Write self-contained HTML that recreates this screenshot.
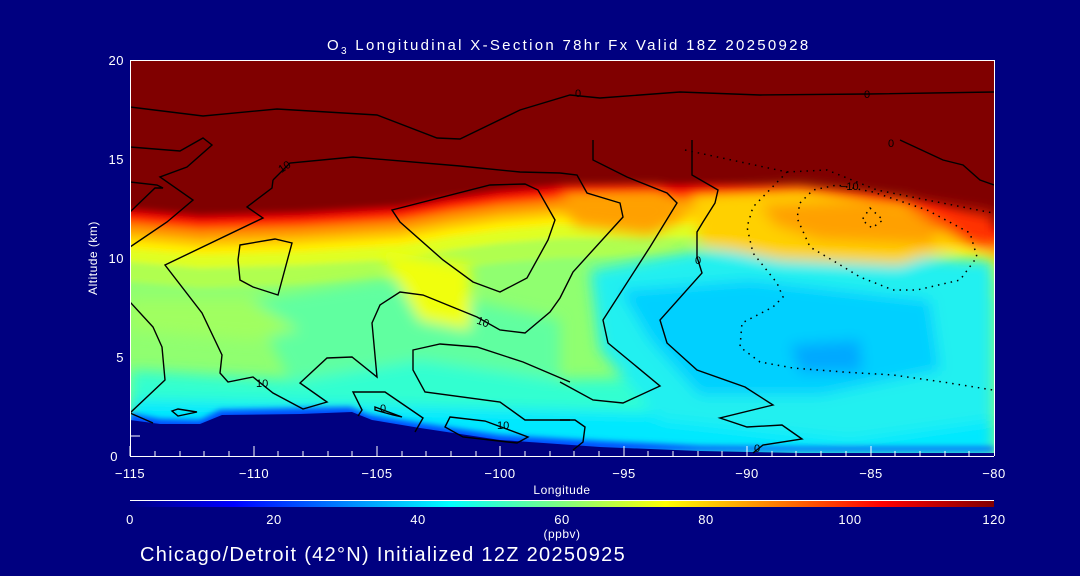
<!DOCTYPE html>
<html><head><meta charset="utf-8"><style>
html,body{margin:0;padding:0;background:#000080;}
svg{display:block;}
text{font-family:"Liberation Sans",sans-serif;fill:#fff;}
</style></head><body>
<svg width="1080" height="576" viewBox="0 0 1080 576" xmlns="http://www.w3.org/2000/svg">
<defs>
<clipPath id="pc"><rect x="130" y="60" width="864" height="396"/></clipPath>
<filter id="bl" x="-20%" y="-20%" width="140%" height="140%"><feGaussianBlur stdDeviation="7"/></filter>
<filter id="bl2" x="-20%" y="-20%" width="140%" height="140%"><feGaussianBlur stdDeviation="3"/></filter>
<path id="tp" d="M120,206 L200,213 L300,210 L400,204 L450,195 L500,188 L560,183 L700,182 L800,184 L880,192 L940,205 L1000,228 L1000,470 L120,470 Z"/>
<linearGradient id="cb" x1="0" x2="1" y1="0" y2="0">
<stop offset="0" stop-color="#000080"/><stop offset="0.12" stop-color="#0000ff"/>
<stop offset="0.37" stop-color="#00ffff"/><stop offset="0.5" stop-color="#80ff80"/>
<stop offset="0.62" stop-color="#ffff00"/><stop offset="0.87" stop-color="#ff0000"/>
<stop offset="1" stop-color="#800000"/></linearGradient>
</defs>
<g clip-path="url(#pc)">
<rect x="130" y="60" width="864" height="396" fill="#800000"/>
<g filter="url(#bl2)">
<use href="#tp" fill="#b00000"/>
<use href="#tp" fill="#e00000" transform="translate(0,4)"/>
<use href="#tp" fill="#ff2000" transform="translate(0,8)"/>
<use href="#tp" fill="#ff5000" transform="translate(0,12)"/>
<use href="#tp" fill="#ff8000" transform="translate(0,16)"/>
<use href="#tp" fill="#ffa000" transform="translate(0,21)"/>
<use href="#tp" fill="#ffc800" transform="translate(0,27)"/>
<use href="#tp" fill="#ffee00" transform="translate(0,34)"/>
<use href="#tp" fill="#e0ff20" transform="translate(0,42)"/>
<use href="#tp" fill="#b0ff50" transform="translate(0,55)"/>
<use href="#tp" fill="#90ff70" transform="translate(0,75)"/>
</g>
<g filter="url(#bl)">
<path d="M250,300 L380,280 L470,300 L560,320 L560,400 L300,400 Z" fill="#60ffa0"/>
<path d="M130,330 L250,340 L300,330 L250,300 L130,300 Z" fill="#a0ff60"/>
<path d="M380,250 L470,265 L470,330 L420,320 Z" fill="#f0ff10"/>
<path d="M130,370 L300,380 L420,360 L560,380 L994,370 L994,456 L130,456 Z" fill="#30ffd0"/>
<path d="M130,400 L994,420 L994,456 L130,456 Z" fill="#00e8ff"/>
<path d="M590,270 L700,250 L994,260 L994,420 L850,440 L660,420 L600,350 Z" fill="#20f0f0"/>
<path d="M620,290 L750,280 L930,300 L940,370 L820,395 L700,395 L650,340 Z" fill="#00d0ff"/>
<path d="M790,345 L860,340 L862,372 L800,372 Z" fill="#00a8ff"/>
<path d="M690,195 L800,188 L930,205 L960,245 L900,265 L780,260 L700,245 Z" fill="#ffd000"/>
<path d="M760,205 L880,198 L945,220 L930,245 L820,240 L775,225 Z" fill="#ffa000"/>
<path d="M560,192 L660,190 L690,215 L650,235 L575,225 Z" fill="#ffa000"/>
<path d="M900,200 L994,215 L994,245 L950,235 Z" fill="#ff3000"/>
</g>
<path d="M130,418 L160,424 L200,425 L220,415 L300,413 L350,412 L370,420 L420,428 L500,440 L600,446 L700,451 L800,452 L994,452 L994,456 L130,456 Z" fill="#0050ff" transform="translate(0,-5)" filter="url(#bl2)"/>
<path d="M130,420 L160,424 L200,424 L222,415 L300,414 L352,412 L372,420 L420,428 L500,440 L600,447 L700,451 L800,453 L994,453 L994,460 L130,460 Z" fill="#000080"/>
<g fill="none" stroke="#000" stroke-width="1.4">
<polyline points="130,107 203,116 277,109 377,115 437,138 460,139 520,110 570,95 600,98 680,92 760,95 868,94 994,92"/>
<polyline points="130,147 180,151 203,138 212,145 187,167 160,177 193,200 167,222 130,247"/>
<polyline points="130,182 157,185 163,188 155,188 130,212"/>
<polyline points="273,180 272,188 247,207 263,218 165,265 202,313 222,355 220,373 228,382 253,377 273,393 303,409 327,402 300,383 327,358 352,357 377,377 372,323 380,305 400,292 423,295 477,317 500,330 525,333 550,312 560,298 573,272 623,217 620,203 587,193 577,175 560,173"/>
<polyline points="273,180 290,163 353,157 460,166 520,172 560,173"/>
<polygon points="392,210 490,185 525,184 538,190 555,220 548,240 527,278 500,292 473,282 443,260 400,222"/>
<polygon points="240,245 275,239 292,243 278,295 253,287 240,280 238,260"/>
<polyline points="130,302 153,327 162,347 165,380 130,413 153,423"/>
<polyline points="570,382 523,362 477,347 440,344 413,350 413,370 425,392 500,402 525,420 570,420"/>
<polyline points="415,432 423,418 385,392 353,392 362,410 358,416"/>
<polygon points="450,417 485,421 528,437 517,443 463,437 445,427"/>
<polygon points="172,411 178,409 197,412 178,416"/>
<polygon points="375,407 402,417 393,415 375,410"/>
<polyline points="593,140 593,160 627,177 667,193 677,203 650,247 603,320 608,343 660,386 623,403 593,400 560,382"/>
<polyline points="692,140 692,175 718,190 715,203 703,222 697,232 697,257 702,273 660,320 667,343 697,370 745,387 773,405 720,418 747,427 782,425 802,439 763,445 753,453"/>
<polyline points="560,420 575,420 585,427 583,442 573,450"/>
<polyline points="900,140 943,160 963,165 980,180 994,185"/>
</g>
<g fill="none" stroke="#000" stroke-width="1.5" stroke-dasharray="1.5,5">
<polyline points="685,150 787,172 753,207 747,227 753,253 777,283 783,297 773,307 742,323 740,347 760,362 793,368 843,372 893,375 943,382 993,390"/>
<polyline points="787,172 827,170 877,190 927,200 993,213"/>
<polygon points="800,203 813,190 837,185 873,192 927,210 970,233 977,257 960,280 917,290 893,290 860,277 837,263 810,247 797,218"/>
<polygon points="870,208 883,220 872,228 862,220"/>
</g>
<g style="font-size:11px" fill="#000">
<text x="278" y="170" style="fill:#000" transform="rotate(-35 285 166)">10</text>
<text x="477" y="326" style="fill:#000" transform="rotate(20 484 322)">10</text>
<text x="256" y="387" style="fill:#000">10</text>
<text x="380" y="412" style="fill:#000">0</text>
<text x="497" y="429" style="fill:#000">10</text>
<text x="575" y="97" style="fill:#000">0</text>
<text x="864" y="98" style="fill:#000">0</text>
<text x="888" y="147" style="fill:#000">0</text>
<text x="695" y="264" style="fill:#000">0</text>
<text x="754" y="452" style="fill:#000">0</text>
<text x="840" y="190" style="fill:#000">−10</text>
</g>
</g>
<g stroke="#fff" stroke-width="1" fill="none">
<line x1="130" y1="60.5" x2="994" y2="60.5"/>
<line x1="130" y1="456.5" x2="994" y2="456.5"/>
<line x1="130.5" y1="60" x2="130.5" y2="456"/>
<line x1="994.5" y1="60" x2="994.5" y2="456"/>
</g>
<g stroke="#fff" stroke-width="1">
<line x1="130" y1="456" x2="130" y2="446"/><line x1="254" y1="456" x2="254" y2="446"/><line x1="377" y1="456" x2="377" y2="446"/><line x1="500" y1="456" x2="500" y2="446"/><line x1="624" y1="456" x2="624" y2="446"/><line x1="747" y1="456" x2="747" y2="446"/><line x1="871" y1="456" x2="871" y2="446"/>
<line x1="155" y1="456" x2="155" y2="451"/><line x1="180" y1="456" x2="180" y2="451"/><line x1="204" y1="456" x2="204" y2="451"/><line x1="229" y1="456" x2="229" y2="451"/>
<line x1="278" y1="456" x2="278" y2="451"/><line x1="303" y1="456" x2="303" y2="451"/><line x1="328" y1="456" x2="328" y2="451"/><line x1="352" y1="456" x2="352" y2="451"/>
<line x1="402" y1="456" x2="402" y2="451"/><line x1="426" y1="456" x2="426" y2="451"/><line x1="451" y1="456" x2="451" y2="451"/><line x1="476" y1="456" x2="476" y2="451"/>
<line x1="525" y1="456" x2="525" y2="451"/><line x1="550" y1="456" x2="550" y2="451"/><line x1="574" y1="456" x2="574" y2="451"/><line x1="599" y1="456" x2="599" y2="451"/>
<line x1="648" y1="456" x2="648" y2="451"/><line x1="673" y1="456" x2="673" y2="451"/><line x1="698" y1="456" x2="698" y2="451"/><line x1="722" y1="456" x2="722" y2="451"/>
<line x1="772" y1="456" x2="772" y2="451"/><line x1="796" y1="456" x2="796" y2="451"/><line x1="821" y1="456" x2="821" y2="451"/><line x1="846" y1="456" x2="846" y2="451"/>
<line x1="895" y1="456" x2="895" y2="451"/><line x1="920" y1="456" x2="920" y2="451"/><line x1="945" y1="456" x2="945" y2="451"/><line x1="969" y1="456" x2="969" y2="451"/>
<line x1="130" y1="436" x2="140" y2="436"/>
</g>
<g style="font-size:13px;letter-spacing:0.5px">
<text x="118" y="461" text-anchor="end">0</text>
<text x="124" y="362" text-anchor="end">5</text>
<text x="124" y="263" text-anchor="end">10</text>
<text x="124" y="164" text-anchor="end">15</text>
<text x="124" y="65" text-anchor="end">20</text>
<text x="130" y="478" text-anchor="middle">−115</text>
<text x="254" y="478" text-anchor="middle">−110</text>
<text x="377" y="478" text-anchor="middle">−105</text>
<text x="500" y="478" text-anchor="middle">−100</text>
<text x="624" y="478" text-anchor="middle">−95</text>
<text x="747" y="478" text-anchor="middle">−90</text>
<text x="871" y="478" text-anchor="middle">−85</text>
<text x="994" y="478" text-anchor="middle">−80</text>
<text x="562" y="494" text-anchor="middle" style="font-size:12px">Longitude</text>
<text x="97" y="258" text-anchor="middle" style="font-size:12px" transform="rotate(-90 97 258)">Altitude (km)</text>
<text x="130" y="524" text-anchor="middle">0</text>
<text x="274" y="524" text-anchor="middle">20</text>
<text x="418" y="524" text-anchor="middle">40</text>
<text x="562" y="524" text-anchor="middle">60</text>
<text x="706" y="524" text-anchor="middle">80</text>
<text x="850" y="524" text-anchor="middle">100</text>
<text x="994" y="524" text-anchor="middle">120</text>
<text x="562" y="538" text-anchor="middle" style="font-size:12px">(ppbv)</text>
</g>
<text x="327" y="50" style="font-size:15px;letter-spacing:2.3px">O<tspan dy="4" style="font-size:10px">3</tspan><tspan dy="-4"> Longitudinal X-Section 78hr  Fx Valid 18Z 20250928</tspan></text>
<rect x="130" y="500" width="864" height="1" fill="#fff"/>
<rect x="130" y="501" width="864" height="6" fill="url(#cb)"/>
<text x="140" y="561" style="font-size:20px;letter-spacing:1.3px">Chicago/Detroit (42°N) Initialized 12Z 20250925</text>
</svg>
</body></html>
